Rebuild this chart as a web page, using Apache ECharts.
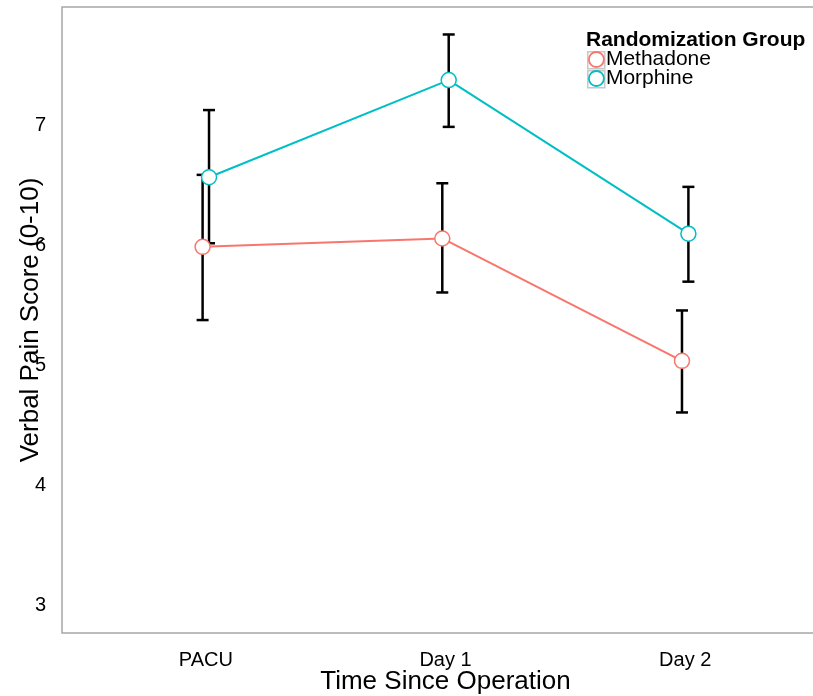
<!DOCTYPE html>
<html>
<head>
<meta charset="utf-8">
<script src="https://cdn.jsdelivr.net/npm/echarts@6/dist/echarts.min.js"></script>
<style>
  html, body { margin: 0; padding: 0; background: #fff; }
  #grafica { width: 813px; height: 696px; }
</style>
</head>
<body>
<div id="grafica"></div>
<script>
// Datos
const categorias = ['PACU', 'Day 1', 'Day 2'];
const grupos = ['Methadone', 'Morphine'];

const metadonaMedia = [5.99, 6.06, 5.04];
const metadonaBaja = [5.38, 5.61, 4.61];
const metadonaAlta = [6.59, 6.52, 5.46];

const morfinaMedia = [6.57, 7.38, 6.10];
const morfinaBaja = [6.02, 6.99, 5.70];
const morfinaAlta = [7.13, 7.76, 6.49];

const marcasY = [3, 4, 5, 6, 7];

const colores = ['#F8766D', '#00BFC4'];
const fuente = 'Liberation Sans, Arial, sans-serif';

// pequeño desplazamiento (dodge) entre grupos
const desplazamiento = 0.0134;

const myChart = echarts.init(document.getElementById('grafica'));

// convierte medias en pares [x, y] con el dodge de cada grupo
const puntos = (medias, signo) => medias.map((v, i) => [i + 1 + signo * desplazamiento, v]);
const barras = (bajas, altas, signo) => bajas.map((b, i) => [i + 1 + signo * desplazamiento, b, altas[i]]);

// dibuja las barras de error (línea vertical y topes)
const dibujarBarra = function (params, api) {
    const x = api.value(0);
    const abajo = api.coord([x, api.value(1)]);
    const arriba = api.coord([x, api.value(2)]);
    const tope = 6;
    const estilo = { stroke: '#000', lineWidth: 2.5 };
    return {
        type: 'group',
        children: [
            { type: 'line', shape: { x1: abajo[0], y1: abajo[1], x2: arriba[0], y2: arriba[1] }, style: estilo },
            { type: 'line', shape: { x1: abajo[0] - tope, y1: abajo[1], x2: abajo[0] + tope, y2: abajo[1] }, style: estilo },
            { type: 'line', shape: { x1: arriba[0] - tope, y1: arriba[1], x2: arriba[0] + tope, y2: arriba[1] }, style: estilo }
        ]
    };
};

const serieLinea = (nombre, datos, color) => ({
    name: nombre,
    type: 'line',
    data: datos,
    z: 5,
    symbol: 'circle',
    symbolSize: 15,
    lineStyle: { color: color, width: 2 },
    itemStyle: { color: '#fff', borderColor: color, borderWidth: 1.5 },
    emphasis: { disabled: true },
    animation: false
});

const serieBarra = (datos) => ({
    type: 'custom',
    renderItem: dibujarBarra,
    data: datos,
    z: 2,
    silent: true,
    animation: false
});

let option = {
    backgroundColor: '#fff',
    textStyle: { fontFamily: fuente },
    title: {
        text: 'Randomization Group',
        left: 586,
        top: 30,
        padding: 0,
        textStyle: { fontFamily: fuente, fontSize: 21, fontWeight: 'bold', color: '#000' }
    },
    // cajas grises de la leyenda (decorativas, estilo ggplot)
    graphic: grupos.map((g, i) => ({
        type: 'rect',
        left: 587,
        top: 51 + i * 19,
        shape: { width: 17, height: 17 },
        style: { fill: '#fff', stroke: '#c8c8c8', lineWidth: 1.5 },
        z: 1
    })),
    legend: {
        data: grupos.map((g, i) => ({
            name: g,
            icon: 'circle',
            itemStyle: { color: '#fff', borderColor: colores[i], borderWidth: 1.8 }
        })),
        orient: 'vertical',
        left: 588,
        top: 49,
        padding: 0,
        itemGap: -2,
        itemWidth: 15,
        itemHeight: 15,
        z: 3,
        textStyle: { fontFamily: fuente, fontSize: 21, color: '#000', padding: [0, 0, 0, -3] }
    },
    grid: {
        left: 62,
        top: 7,
        right: -16,
        bottom: 63,
        outerBoundsMode: 'none',
        containLabel: false,
        show: true,
        borderColor: '#a6a6a6',
        borderWidth: 1.5
    },
    xAxis: {
        type: 'value',
        min: 0.4,
        max: 3.6,
        name: 'Time Since Operation',
        nameLocation: 'middle',
        nameGap: 36,
        nameMoveOverlap: false,
        nameTextStyle: { fontFamily: fuente, fontSize: 26, color: '#000' },
        axisLine: { show: false },
        axisTick: { show: false },
        splitLine: { show: false },
        axisLabel: {
            customValues: [1, 2, 3],
            fontFamily: fuente,
            fontSize: 20,
            color: '#000',
            margin: 17,
            formatter: function (value) {
                return categorias[Math.round(value) - 1];
            }
        }
    },
    yAxis: {
        type: 'value',
        min: 2.772,
        max: 7.989,
        name: 'Verbal Pain Score (0-10)',
        nameLocation: 'middle',
        nameGap: 18,
        nameMoveOverlap: false,
        nameTextStyle: { fontFamily: fuente, fontSize: 26, color: '#000' },
        axisLine: { show: false },
        axisTick: { show: false },
        splitLine: { show: false },
        axisLabel: {
            customValues: marcasY,
            fontFamily: fuente,
            fontSize: 20,
            color: '#000',
            margin: 16
        }
    },
    series: [
        serieBarra(barras(metadonaBaja, metadonaAlta, -1)),
        serieBarra(barras(morfinaBaja, morfinaAlta, 1)),
        serieLinea(grupos[0], puntos(metadonaMedia, -1), colores[0]),
        serieLinea(grupos[1], puntos(morfinaMedia, 1), colores[1])
    ]
};

myChart.setOption(option);
</script>
</body>
</html>
